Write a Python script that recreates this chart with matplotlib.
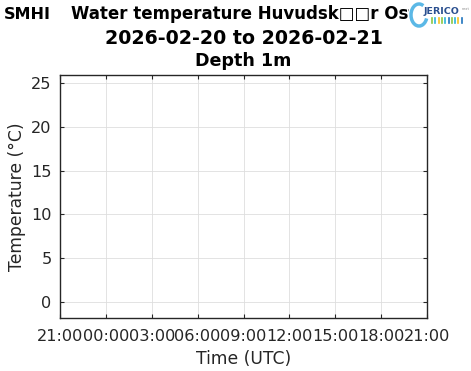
import datetime as dt
import matplotlib
matplotlib.use('Agg')
import matplotlib.pyplot as plt
import matplotlib.dates as mdates
from matplotlib.patches import Rectangle, Arc

# data (no measurements in the period)
times = []
temps = []
t_start = dt.datetime(2026, 2, 20, 21, 0)
t_end = dt.datetime(2026, 2, 21, 21, 0)
y_ticks = [0, 5, 10, 15, 20, 25]
title_lines = ['Water temperature Huvudsk\u25a1\u25a1r Ost',
               '2026-02-20 to 2026-02-21',
               'Depth 1m']
bar_colors = ['#8cc63f', '#2bb5d8', '#f7c21e', '#8cc63f', '#2bb5d8',
              '#1e73be', '#8cc63f', '#2bb5d8', '#f7c21e', '#1e73be']

W, H = 471, 371
fig = plt.figure(figsize=(W/100, H/100), dpi=100)
ax = fig.add_axes([60/W, (H-318)/H, 367/W, 243/H])

ax.plot(times, temps, color='#0072bd')

ax.set_xlim(t_start, t_end)
ax.set_ylim(-1.83, 25.9)
ax.set_yticks(y_ticks)
ax.xaxis.set_major_locator(mdates.HourLocator(byhour=range(0, 24, 3)))
ax.xaxis.set_major_formatter(mdates.DateFormatter('%H:%M'))

ax.grid(True, color='#dedede', linewidth=0.6)
ax.tick_params(direction='in', length=3, width=0.8, top=True, right=True,
               labelsize=11.6, colors='#262626')
ax.tick_params(axis='x', pad=8)
ax.tick_params(axis='y', pad=6)
for s in ax.spines.values():
    s.set_color('#262626')
    s.set_linewidth(1.0)

ax.set_xlabel('Time (UTC)', fontsize=12.3, color='#262626', labelpad=4)
ax.set_ylabel('Temperature (\u00b0C)', fontsize=12.3, color='#262626', labelpad=4)

# three title lines (baselines)
title_sizes = [12.0, 13.7, 12.6]
title_base = [19, 44, 66]
for txt, fs, yb in zip(title_lines, title_sizes, title_base):
    fig.text(243.5/W, 1 - yb/H, txt, fontsize=fs, fontweight='bold',
             ha='center', va='baseline')

# SMHI logo
fig.text(4/W, 1 - 19/H, 'SMHI', fontsize=11.5, fontweight='bold',
         color='black', va='baseline', ha='left')

# JERICO logo (covers end of title)
fig.patches.append(Rectangle((409/W, 1 - 30/H), 62/W, 30/H, transform=fig.transFigure,
                             facecolor='white', edgecolor='none', zorder=10))
fig.patches.append(Arc((419/W, 1 - 15/H), 16/W, 22/H, theta1=70, theta2=330,
                       transform=fig.transFigure, color='#5bb8e6', lw=2.5, zorder=11))
fig.text(424/W, 1 - 14/H, 'JERICO', fontsize=6.8, color='#2a4f8f',
         fontweight='bold', zorder=12)
fig.text(462/W, 1 - 10/H, 'next', fontsize=2.5, color='#8a8a8a', zorder=12)
for i, c in enumerate(bar_colors):
    x = (432 + i*3.3)/W
    fig.add_artist(plt.Line2D([x, x], [1 - 23/H, 1 - 18/H], transform=fig.transFigure,
                              color=c, lw=1.2, zorder=12))

fig.savefig('out.png', dpi=100)
